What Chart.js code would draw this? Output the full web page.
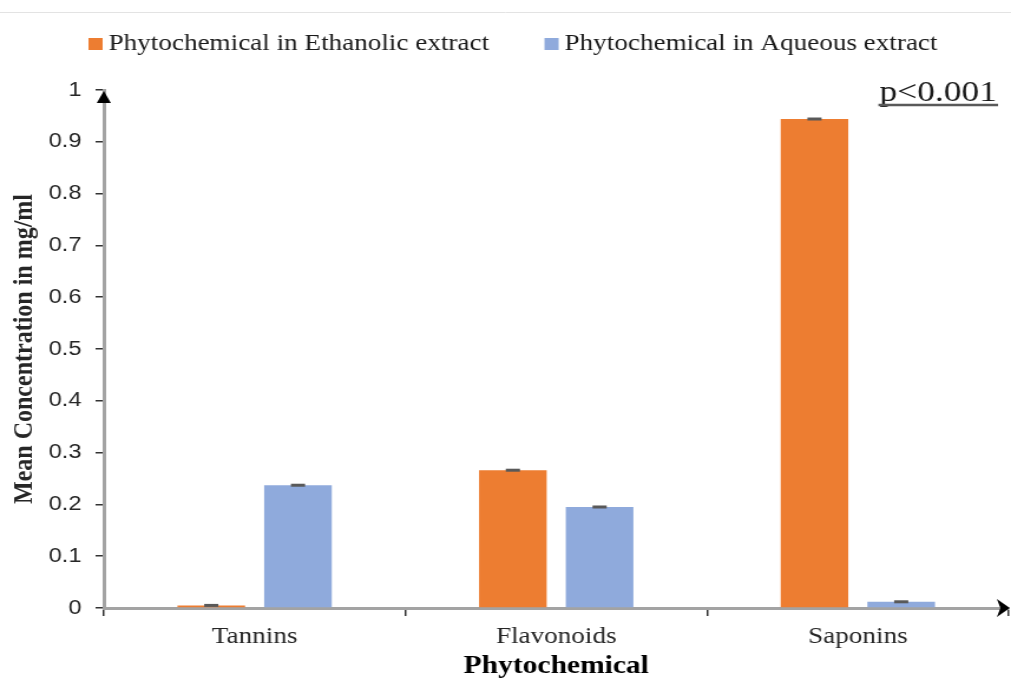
<!DOCTYPE html>
<html>
<head>
<meta charset="utf-8">
<title>Phytochemical</title>
<script src="https://cdn.jsdelivr.net/npm/chart.js@4"></script>
<style>
  html, body { margin: 0; padding: 0; background: #fff; }
</style>
</head>
<body>
<!-- el original esta estirado en horizontal: se dibuja a 857 px y se muestra a 1011 -->
<canvas id="grafico" width="857" height="679" style="display:block;width:1011px;height:679px"></canvas>
<script>
// ============================
// Datos
// ============================
const categorias = ["Tannins", "Flavonoids", "Saponins"];
const etanolico = [0.005, 0.266, 0.944];
const acuoso = [0.237, 0.195, 0.012];
const errEtanolico = [0.001, 0.001, 0.001];
const errAcuoso = [0.001, 0.001, 0.001];
const ticksY = [0, 0.1, 0.2, 0.3, 0.4, 0.5, 0.6, 0.7, 0.8, 0.9, 1];
const nombresSeries = ["Phytochemical in Ethanolic extract", "Phytochemical in Aqueous extract"];
const textoP = "p<0.001";

const SERIF = '"Liberation Serif", "Times New Roman", serif';

// ============================
// Leyenda arriba
// ============================
const leyenda = {
  id: "leyenda",
  afterDraw(chart) {
    const ctx = chart.ctx;
    ctx.save();
    // linea gris fina del borde superior
    ctx.strokeStyle = "#e3e3e3";
    ctx.lineWidth = 1;
    ctx.beginPath();
    ctx.moveTo(0, 12.5);
    ctx.lineTo(chart.width, 12.5);
    ctx.stroke();

    ctx.font = "23px " + SERIF;
    ctx.textBaseline = "middle";
    let x = 75;
    chart.data.datasets.forEach(ds => {
      ctx.fillStyle = ds.backgroundColor;
      ctx.fillRect(x, 38, 12, 12);
      ctx.fillStyle = "#1a1a1a";
      ctx.fillText(ds.label, x + 17, 44);
      x += 17 + ctx.measureText(ds.label).width + 47;
    });
    ctx.restore();
  }
};

// ============================
// Barras de error, flechas y p
// ============================
const extras = {
  id: "extras",
  afterDatasetsDraw(chart) {
    const ctx = chart.ctx;
    const y = chart.scales.y;
    ctx.save();
    ctx.fillStyle = "#595959";
    chart.data.datasets.forEach((ds, i) => {
      chart.getDatasetMeta(i).data.forEach((bar, j) => {
        const v = ds.data[j], e = ds.errores[j];
        const yA = y.getPixelForValue(v + e);
        const yB = y.getPixelForValue(v - e);
        const h = Math.max(3, yB - yA);
        const yc = (yA + yB) / 2;
        ctx.fillRect(bar.x - 6, yc - h / 2, 12, h);
      });
    });
    ctx.restore();
  },
  afterDraw(chart) {
    const ctx = chart.ctx;
    const { left, right, top, bottom } = chart.chartArea;
    ctx.save();
    ctx.fillStyle = "#000";
    // flecha eje Y
    ctx.beginPath();
    ctx.moveTo(left, top + 1);
    ctx.lineTo(left - 6, top + 13);
    ctx.lineTo(left + 6, top + 13);
    ctx.closePath();
    ctx.fill();
    // flecha eje X
    ctx.beginPath();
    ctx.moveTo(right + 1, bottom);
    ctx.lineTo(right - 10, bottom - 9);
    ctx.lineTo(right - 7, bottom);
    ctx.lineTo(right - 10, bottom + 9);
    ctx.closePath();
    ctx.fill();

    // p<0.001 subrayado
    ctx.font = "30px " + SERIF;
    ctx.textAlign = "right";
    ctx.textBaseline = "alphabetic";
    ctx.fillStyle = "#1a1a1a";
    const xr = right - 10;
    ctx.fillText(textoP, xr, 101);
    const w = ctx.measureText(textoP).width;
    ctx.strokeStyle = "#595959";
    ctx.lineWidth = 2.5;
    ctx.beginPath();
    ctx.moveTo(xr - w - 1, 105);
    ctx.lineTo(xr + 1, 105);
    ctx.stroke();
    ctx.restore();
  }
};

// ============================
// Grafico
// ============================
new Chart(document.getElementById("grafico"), {
  type: "bar",
  data: {
    labels: categorias,
    datasets: [{
      label: nombresSeries[0],
      data: etanolico,
      errores: errEtanolico,
      backgroundColor: "#ED7D31"
    }, {
      label: nombresSeries[1],
      data: acuoso,
      errores: errAcuoso,
      backgroundColor: "#8FAADC"
    }]
  },
  options: {
    responsive: false,
    maintainAspectRatio: false,
    animation: false,
    layout: { padding: { top: 90, right: 2, bottom: 0, left: 0 } },
    datasets: {
      bar: { barPercentage: 0.78, categoryPercentage: 0.575 }
    },
    plugins: {
      legend: { display: false },
      tooltip: { enabled: false }
    },
    scales: {
      x: {
        afterFit: s => { s.height = 71; },
        grid: {
          offset: true,
          drawOnChartArea: false,
          tickLength: 8,
          color: "#333",
          lineWidth: 1.5
        },
        border: { color: "#a3a3a3", width: 3 },
        ticks: {
          padding: 7,
          color: "#262626",
          font: { family: SERIF, size: 23 }
        },
        title: {
          display: true,
          text: "Phytochemical",
          color: "#000",
          padding: { top: 0, bottom: 0 },
          font: { family: SERIF, size: 25, weight: "bold", lineHeight: 1.0 }
        }
      },
      y: {
        min: 0,
        max: 1,
        afterFit: s => { s.width = 88; },
        afterBuildTicks: s => { s.ticks = ticksY.map(v => ({ value: v })); },
        grid: {
          drawOnChartArea: false,
          tickLength: 7,
          color: "#333",
          lineWidth: 1.5
        },
        border: { color: "#a3a3a3", width: 3 },
        ticks: {
          padding: 12,
          color: "#262626",
          font: { family: '"Liberation Sans", Arial, sans-serif', size: 20 },
          callback: v => String(Number(v.toFixed(1)))
        },
        title: {
          display: true,
          text: "Mean Concentration in mg/ml",
          color: "#262626",
          padding: { top: 6, bottom: 0 },
          font: { family: SERIF, size: 24, weight: "bold" }
        }
      }
    }
  },
  plugins: [leyenda, extras]
});
</script>
</body>
</html>
